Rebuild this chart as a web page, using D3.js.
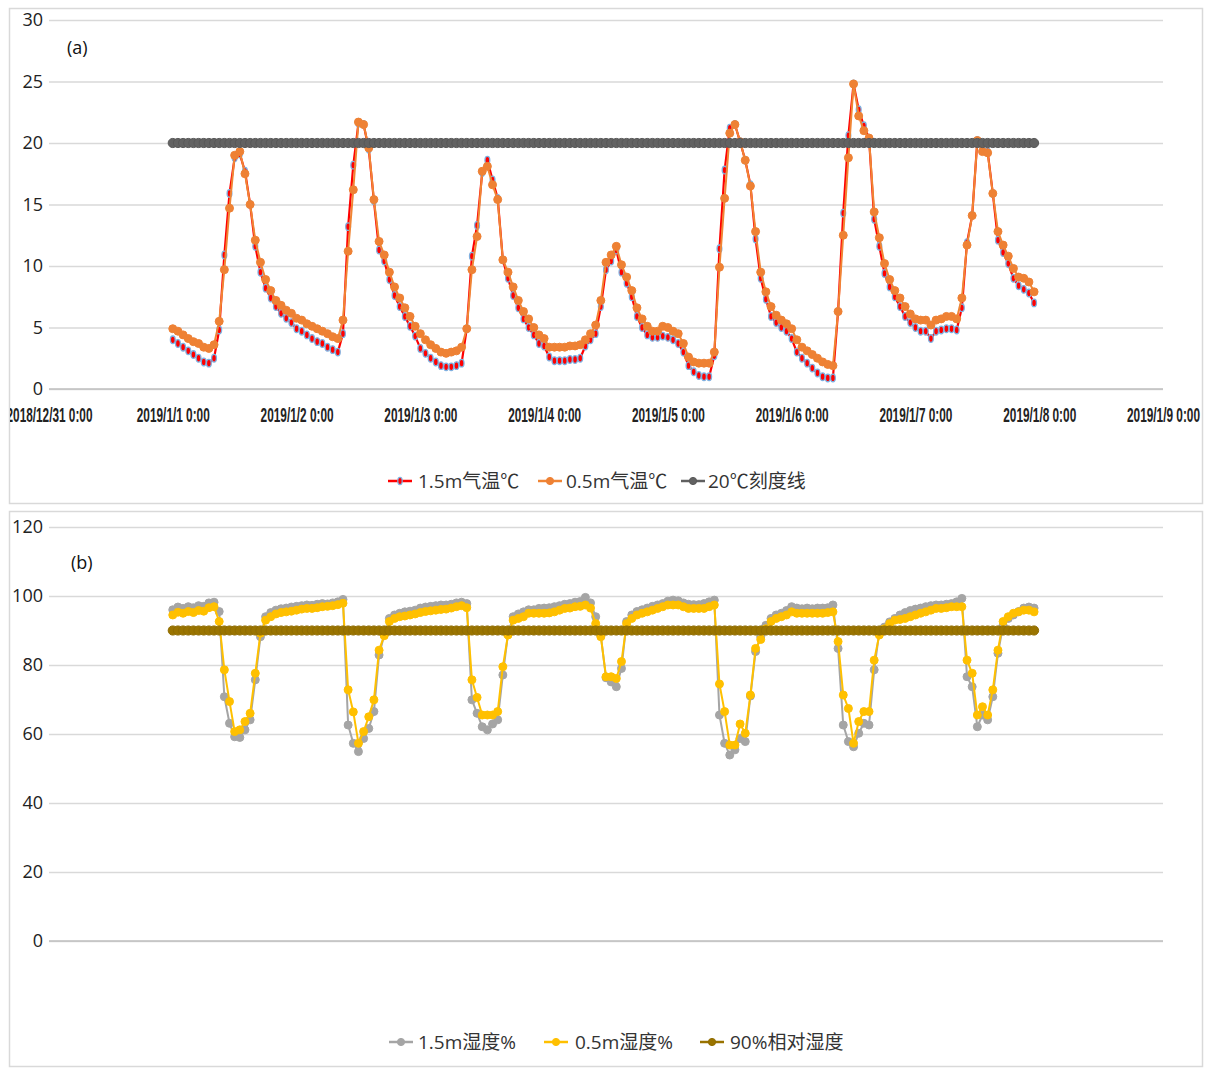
<!DOCTYPE html>
<html><head><meta charset="utf-8">
<script src="https://cdn.jsdelivr.net/npm/d3@7"></script>
<style>body{margin:0;background:#fff}svg{display:block}</style>
</head><body>
<svg id="c" width="1213" height="1068"></svg>
<script>
// ---------- DATA ----------
const xTickLabels = ["2018/12/31 0:00","2019/1/1 0:00","2019/1/2 0:00","2019/1/3 0:00","2019/1/4 0:00","2019/1/5 0:00","2019/1/6 0:00","2019/1/7 0:00","2019/1/8 0:00","2019/1/9 0:00"];
const tempTicks = [0,5,10,15,20,25,30];
const humTicks = [0,20,40,60,80,100,120];
const tempLegend = ["1.5m气温℃","0.5m气温℃","20℃刻度线"];
const humLegend = ["1.5m湿度%","0.5m湿度%","90%相对湿度"];

// hourly, 2019/1/1 0:00 .. 2019/1/7 23:00
const temp15 = [
 4.0,3.7,3.4,3.1,2.8,2.5,2.2,2.1,2.5,4.8,10.9,15.9,18.8,19.1,17.7,15.0,11.6,9.5,8.2,7.4,6.7,6.15,5.75,5.4,
 4.9,4.7,4.4,4.1,3.85,3.7,3.4,3.2,3.0,4.5,13.2,18.2,21.6,21.5,19.5,15.3,11.3,10.4,8.9,7.6,6.7,5.9,5.1,4.3,
 3.3,2.9,2.5,2.2,1.9,1.8,1.8,1.9,2.1,4.9,10.8,13.3,17.6,18.6,17.0,15.5,10.5,9.0,7.6,6.6,5.7,5.0,4.4,3.7,
 3.5,2.6,2.3,2.3,2.3,2.4,2.4,2.5,3.5,4.0,4.5,6.7,9.7,10.4,11.3,9.5,8.6,7.5,5.9,5.0,4.4,4.2,4.2,4.3,
 4.2,4.0,3.7,3.0,1.9,1.4,1.1,1.0,1.0,2.7,11.4,17.8,21.2,21.5,20.1,18.6,16.6,12.2,9.0,7.3,5.9,5.4,5.0,4.7,
 4.1,3.0,2.5,2.1,1.7,1.3,1.0,0.9,0.9,6.3,14.3,20.6,24.8,22.7,21.4,20.4,13.8,11.6,9.4,8.3,7.5,6.7,5.9,5.4,
 5.0,4.7,4.7,4.1,4.7,4.8,4.9,4.9,4.8,6.6,11.9,14.1,20.2,19.5,19.3,15.9,12.1,11.1,10.2,9.0,8.4,8.1,7.8,7.0
];
const temp05 = [
 4.9,4.7,4.4,4.1,3.85,3.7,3.4,3.3,3.6,5.5,9.7,14.7,19.0,19.3,17.5,15.0,12.1,10.3,8.9,8.0,7.2,6.8,6.4,6.15,
 5.75,5.6,5.3,5.1,4.9,4.7,4.5,4.25,4.1,5.6,11.2,16.2,21.7,21.5,19.6,15.4,12.0,10.9,9.5,8.3,7.4,6.6,5.9,5.1,
 4.5,4.0,3.6,3.3,3.0,2.9,3.0,3.1,3.4,4.9,9.7,12.4,17.7,18.1,16.6,15.4,10.5,9.5,8.3,7.2,6.3,5.7,5.0,4.4,
 4.1,3.4,3.4,3.4,3.4,3.5,3.5,3.6,4.0,4.5,5.2,7.2,10.3,10.9,11.6,10.1,9.1,8.0,6.6,5.7,5.1,4.7,4.7,5.1,
 5.0,4.7,4.5,3.7,2.6,2.2,2.1,2.1,2.1,3.0,9.9,15.5,20.8,21.5,20.1,18.6,16.5,12.8,9.5,7.9,6.7,6.0,5.6,5.3,
 4.9,4.0,3.4,3.1,2.8,2.5,2.2,2.0,1.9,6.3,12.5,18.8,24.8,22.2,21.0,20.4,14.4,12.3,10.2,8.9,8.0,7.4,6.7,6.1,
 5.7,5.6,5.6,5.2,5.6,5.7,5.9,5.9,5.7,7.4,11.7,14.1,20.2,19.3,19.2,15.9,12.8,11.7,10.8,9.8,9.1,9.0,8.7,7.9
];
const hum15 = [
 96.0,96.8,96.4,96.9,96.6,97.2,97.0,98.0,98.2,95.5,70.8,63.1,59.2,59.0,61.2,64.1,75.7,88.2,94.0,95.2,95.9,96.3,96.5,96.8,
 97.0,97.2,97.4,97.3,97.6,97.8,97.7,98.0,98.3,99.0,62.6,57.3,54.9,58.7,61.6,66.5,82.9,88.7,93.5,94.5,95.0,95.4,95.6,95.9,
 96.5,96.8,97.0,97.2,97.4,97.4,97.6,98.0,98.2,97.8,69.9,66.0,62.1,61.2,62.9,64.1,77.1,89.0,94.0,94.8,95.4,96.0,96.0,96.4,
 96.5,96.6,96.9,97.2,97.6,97.8,98.2,98.4,99.6,98.0,94.0,88.5,76.3,75.1,73.7,79.0,92.6,94.5,95.5,96.0,96.5,97.0,97.4,97.8,
 98.5,98.8,98.6,98.0,97.6,97.5,97.5,97.8,98.3,98.8,65.5,57.3,53.9,55.4,58.7,57.8,71.0,83.9,88.2,91.5,93.5,94.5,95.0,95.8,
 96.9,96.5,96.3,96.5,96.3,96.5,96.5,96.6,97.4,84.8,62.6,57.8,56.3,60.2,63.1,62.6,78.6,89.7,91.0,92.5,93.5,94.5,95.2,95.8,
 96.2,96.5,96.9,97.2,97.4,97.4,97.6,97.8,98.3,99.3,76.6,73.7,62.1,65.5,64.1,70.8,83.4,91.5,93.5,94.5,95.5,96.5,96.8,96.5
];
const hum05 = [
 94.5,95.3,95.0,95.5,95.2,95.8,95.6,96.6,96.9,92.6,78.6,69.4,60.7,61.2,63.6,66.0,77.6,89.2,93.0,94.0,94.8,95.2,95.4,95.6,
 95.9,96.2,96.4,96.4,96.6,96.9,97.0,97.2,97.5,97.9,72.8,66.4,57.3,60.7,65.0,69.9,84.3,88.5,92.6,93.5,94.0,94.2,94.5,94.8,
 95.2,95.5,95.7,95.9,96.1,96.2,96.5,96.9,97.2,96.6,75.7,70.6,65.5,65.5,65.5,66.5,79.5,88.7,93.0,93.5,94.0,95.0,95.0,95.0,
 95.0,95.1,95.4,95.9,96.4,96.5,96.9,97.0,97.4,96.5,92.0,88.2,76.6,76.6,76.1,81.0,92.0,93.5,94.5,95.0,95.4,95.9,96.4,96.9,
 97.4,97.4,97.4,96.9,96.4,96.4,96.4,96.4,96.9,97.4,74.5,66.5,56.8,56.8,62.9,60.2,71.3,84.8,87.4,90.5,92.6,93.5,94.0,94.5,
 95.4,95.0,95.0,95.0,95.0,95.0,95.0,95.2,95.4,86.8,71.3,67.4,57.3,63.6,66.5,66.5,81.4,88.7,90.5,92.0,93.0,93.2,93.5,94.0,
 94.5,95.0,95.4,95.9,96.4,96.4,96.6,96.9,96.9,96.9,81.4,77.6,65.5,67.9,65.5,72.8,84.3,92.6,94.0,95.0,95.4,95.9,95.9,95.4
];
const ref20 = temp15.map(() => 20);
const ref90 = hum15.map(() => 90);

// ---------- CHART ----------
const svg = d3.select("#c");
const FONT = "'Open Sans','Noto Sans CJK SC',sans-serif";
const t0 = new Date(Date.UTC(2019,0,1,0));
const times = d3.utcHours(t0, new Date(Date.UTC(2019,0,8,0)));
const dayTicks = d3.utcDays(new Date(Date.UTC(2018,11,31)), new Date(Date.UTC(2019,0,9,1)));
const x = d3.scaleUtc().domain([new Date(Date.UTC(2018,11,31)), new Date(Date.UTC(2019,0,9))]).range([49,1163]);

svg.append("defs").selectAll("clipPath").data([0,1]).join("clipPath")
  .attr("id", d => "clip"+d).append("rect")
  .attr("x", 10).attr("y", d => d ? 512 : 9).attr("width", 1203).attr("height", d => d ? 553 : 494);

function panel(cfg) {
  const g = svg.append("g");
  g.append("rect").attr("x", 9.5).attr("y", cfg.boxTop + 0.5).attr("width", 1193).attr("height", cfg.boxH)
    .attr("fill", "#fff").attr("stroke", "#d9d9d9").attr("stroke-width", 1.5);
  const y = d3.scaleLinear().domain([0, cfg.yMax]).range([cfg.y0, cfg.yTop]);

  // horizontal grid + labels
  const ya = g.append("g").attr("transform", "translate(49,0)")
    .call(d3.axisLeft(y).tickValues(cfg.ticks).tickSize(-(1163-49)).tickPadding(6).tickFormat(d => d));
  ya.select(".domain").remove();
  ya.selectAll(".tick line").attr("stroke", "#d9d9d9").attr("stroke-width", 1.3);
  ya.selectAll(".tick text").attr("font-family", FONT).attr("font-size", 18).attr("fill", "#222");

  // vertical grid + labels
  const xa = g.append("g").attr("transform", `translate(0,${cfg.y0})`).attr("clip-path", `url(#clip${cfg.id})`)
    .call(d3.axisBottom(x).tickValues(dayTicks).tickSize(-(cfg.y0 - cfg.yTop)).tickPadding(19)
      .tickFormat((d, i) => xTickLabels[i]));
  xa.select(".domain").remove();
  xa.selectAll(".tick line").attr("stroke", "#d9d9d9").attr("stroke-width", 1.3);
  xa.selectAll(".tick text").attr("font-family", "'Liberation Sans',Arial,sans-serif")
    .attr("font-weight", "bold").attr("font-size", 20).attr("fill", "#222")
    .each(function(d, i) {
      const w = this.getComputedTextLength();
      const target = i === 0 ? 86 : 73;
      d3.select(this).attr("transform", `scale(${target / w},1)`);
    });
  g.append("line").attr("x1", 49).attr("x2", 1163).attr("y1", y(0)).attr("y2", y(0))
    .attr("stroke", "#bfbfbf").attr("stroke-width", 1.5);

  g.append("text").attr("x", cfg.lblX).attr("y", cfg.lblY).text(cfg.label)
    .attr("font-family", FONT).attr("font-size", 18).attr("fill", "#111");

  const line = d3.line().x((d, i) => x(times[i])).y(d => y(d));
  cfg.series.forEach(s => {
    g.append("path").datum(s.data).attr("d", line).attr("fill", "none")
      .attr("stroke", s.color).attr("stroke-width", s.lw).attr("stroke-linejoin", "round");
    const m = g.append("g");
    if (s.shape === "ellipse") {
      m.selectAll("ellipse").data(s.data).join("ellipse")
        .attr("cx", (d, i) => x(times[i])).attr("cy", d => y(d))
        .attr("rx", 2.4).attr("ry", 3.8).attr("fill", s.mfill).attr("stroke", s.mstroke).attr("stroke-width", 1.3);
    } else {
      m.selectAll("circle").data(s.data).join("circle")
        .attr("cx", (d, i) => x(times[i])).attr("cy", d => y(d))
        .attr("r", s.r).attr("fill", s.mfill).attr("stroke", s.mstroke).attr("stroke-width", 1);
    }
  });

  // legend
  const lg = g.append("g");
  cfg.series.forEach((s, i) => {
    const cx = cfg.legIcon[i], ly = cfg.legY;
    lg.append("line").attr("x1", cx - 12).attr("x2", cx + 12).attr("y1", ly).attr("y2", ly)
      .attr("stroke", s.color).attr("stroke-width", 2.5);
    if (s.shape === "ellipse")
      lg.append("ellipse").attr("cx", cx).attr("cy", ly).attr("rx", 2.2).attr("ry", 3.6)
        .attr("fill", s.mfill).attr("stroke", s.mstroke).attr("stroke-width", 1.2);
    else
      lg.append("circle").attr("cx", cx).attr("cy", ly).attr("r", 3.6).attr("fill", s.mfill).attr("stroke", s.mstroke);
    lg.append("text").attr("x", cfg.legText[i]).attr("y", ly + 7).text(cfg.legend[i])
      .attr("font-family", FONT).attr("font-size", 19).attr("fill", "#333");
  });
}

panel({
  id: 0, boxTop: 8, boxH: 495, y0: 389, yTop: 20, yMax: 30, ticks: tempTicks,
  label: "(a)", lblX: 67, lblY: 54, legend: tempLegend, legY: 481,
  legIcon: [400, 550, 693], legText: [418, 566, 708],
  series: [
    {data: temp15, color: "#ff0000", lw: 2.2, shape: "ellipse", mfill: "#ff0000", mstroke: "#7fb0e0"},
    {data: temp05, color: "#f08534", lw: 2, shape: "circle", r: 4, mfill: "#ee8134", mstroke: "#ee8134"},
    {data: ref20, color: "#606060", lw: 2, shape: "circle", r: 4.6, mfill: "#626262", mstroke: "#585858"}
  ]
});
panel({
  id: 1, boxTop: 511, boxH: 555, y0: 941, yTop: 527, yMax: 120, ticks: humTicks,
  label: "(b)", lblX: 71, lblY: 569, legend: humLegend, legY: 1042,
  legIcon: [401, 556, 712], legText: [418, 575, 730],
  series: [
    {data: hum15, color: "#a5a5a5", lw: 2, shape: "circle", r: 4, mfill: "#a5a5a5", mstroke: "#a5a5a5"},
    {data: hum05, color: "#ffc000", lw: 2, shape: "circle", r: 4, mfill: "#ffc000", mstroke: "#ffc000"},
    {data: ref90, color: "#997300", lw: 2, shape: "circle", r: 4.6, mfill: "#9a7400", mstroke: "#8f6c00"}
  ]
});
</script>
</body></html>
